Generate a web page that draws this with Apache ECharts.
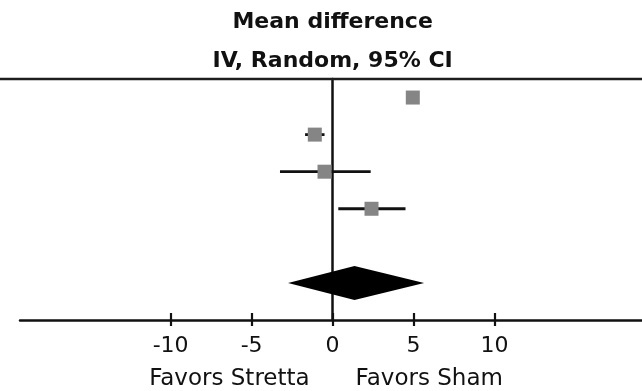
<!DOCTYPE html>
<html>
<head>
<meta charset="utf-8">
<script src="https://cdn.jsdelivr.net/npm/echarts@6/dist/echarts.min.js"></script>
<style>
  html, body { margin: 0; padding: 0; background: #fff; }
  #main { width: 642px; height: 391px; }
</style>
</head>
<body>
<div id="main"></div>
<script>
// Individual studies, top to bottom: mean difference with 95% CI
const rowIndex = [1, 2, 3, 4];
const meanDiff = [4.95, -1.1, -0.5, 2.4];
const ciLower = [4.65, -1.7, -3.25, 0.35];
const ciUpper = [5.25, -0.5, 2.35, 4.5];

// Pooled random-effects estimate
const pooledRow = 6;
const pooledMean = 1.35;
const pooledLower = -2.75;
const pooledUpper = 5.65;

const tickValues = [-10, -5, 0, 5, 10];
const titleLines = ['Mean difference', 'IV, Random, 95% CI'];
const sideLabels = ['Favors Stretta', 'Favors Sham'];

const FONT = 'DejaVu Sans';
const INK = '#111';

const chart = echarts.init(document.getElementById('main'), null, { renderer: 'canvas' });

const studyData = rowIndex.map((r, i) => [meanDiff[i], r, ciLower[i], ciUpper[i]]);
const pooledData = [[pooledMean, pooledRow, pooledLower, pooledUpper]];

const xRange = { min: -19.3, max: 19.1 };

chart.setOption({
  animation: false,
  backgroundColor: '#fff',
  grid: { left: 20, right: 0, top: 79, bottom: 71 },
  xAxis: [
    {
      type: 'value', position: 'bottom',
      min: xRange.min, max: xRange.max,
      splitLine: { show: false },
      axisLine: { show: true, onZero: false, lineStyle: { color: INK, width: 2.5 } },
      axisTick: { show: true, inside: false, length: 6, customValues: tickValues,
                  lineStyle: { color: INK, width: 2.2 } },
      axisLabel: { show: true, customValues: tickValues, margin: 15,
                   fontFamily: FONT, fontSize: 22, color: INK }
    },
    {
      type: 'value', position: 'bottom',
      min: xRange.min, max: xRange.max,
      splitLine: { show: false },
      axisLine: { show: false, onZero: false },
      axisTick: { show: true, inside: true, length: 7, customValues: tickValues,
                  lineStyle: { color: INK, width: 2.2 } },
      axisLabel: { show: false }
    }
  ],
  yAxis: {
    type: 'value', min: 0.5, max: 7, inverse: true,
    splitLine: { show: false },
    axisLine: { show: true, onZero: true, lineStyle: { color: INK, width: 2.5 } },
    axisTick: { show: false },
    axisLabel: { show: false }
  },
  series: [
    {
      // study estimates: CI whisker plus grey square
      type: 'custom',
      xAxisIndex: 0,
      encode: { x: 0, y: 1 },
      data: studyData,
      z: 3,
      renderItem(params, api) {
        const y = api.value(1);
        const c = api.coord([api.value(0), y]);
        const lo = api.coord([api.value(2), y]);
        const hi = api.coord([api.value(3), y]);
        const s = 14;
        return {
          type: 'group',
          children: [
            { type: 'line', shape: { x1: lo[0], y1: lo[1], x2: hi[0], y2: hi[1] },
              style: { stroke: INK, lineWidth: 2.8 } },
            { type: 'rect', shape: { x: c[0] - s / 2, y: c[1] - s / 2, width: s, height: s },
              style: { fill: '#858585' } }
          ]
        };
      }
    },
    {
      // pooled estimate diamond
      type: 'custom',
      xAxisIndex: 0,
      encode: { x: 0, y: 1 },
      data: pooledData,
      z: 3,
      renderItem(params, api) {
        const y = api.value(1);
        const c = api.coord([api.value(0), y]);
        const lo = api.coord([api.value(2), y]);
        const hi = api.coord([api.value(3), y]);
        const h = 17;
        return {
          type: 'polygon',
          shape: { points: [[lo[0], c[1]], [c[0], c[1] - h], [hi[0], c[1]], [c[0], c[1] + h]] },
          style: { fill: '#000' }
        };
      }
    }
  ]
});

// header text, rule and direction labels are centred on the zero line
const x0 = chart.convertToPixel({ xAxisIndex: 0 }, 0);
chart.setOption({
  graphic: [
    { type: 'line', shape: { x1: 0, y1: 79, x2: 642, y2: 79 },
      style: { stroke: '#1e1e1e', lineWidth: 2.5 }, z: 10 },
    { type: 'text', x: x0, y: 22,
      style: { text: titleLines[0], font: 'bold 22px "DejaVu Sans"', fill: INK,
               textAlign: 'center', textVerticalAlign: 'middle' } },
    { type: 'text', x: x0, y: 61,
      style: { text: titleLines[1], font: 'bold 22px "DejaVu Sans"', fill: INK,
               textAlign: 'center', textVerticalAlign: 'middle' } },
    { type: 'text', x: x0 - 23, y: 379,
      style: { text: sideLabels[0], font: '23px "DejaVu Sans"', fill: INK,
               textAlign: 'right', textVerticalAlign: 'middle' } },
    { type: 'text', x: x0 + 23, y: 379,
      style: { text: sideLabels[1], font: '23px "DejaVu Sans"', fill: INK,
               textAlign: 'left', textVerticalAlign: 'middle' } }
  ]
});
</script>
</body>
</html>
